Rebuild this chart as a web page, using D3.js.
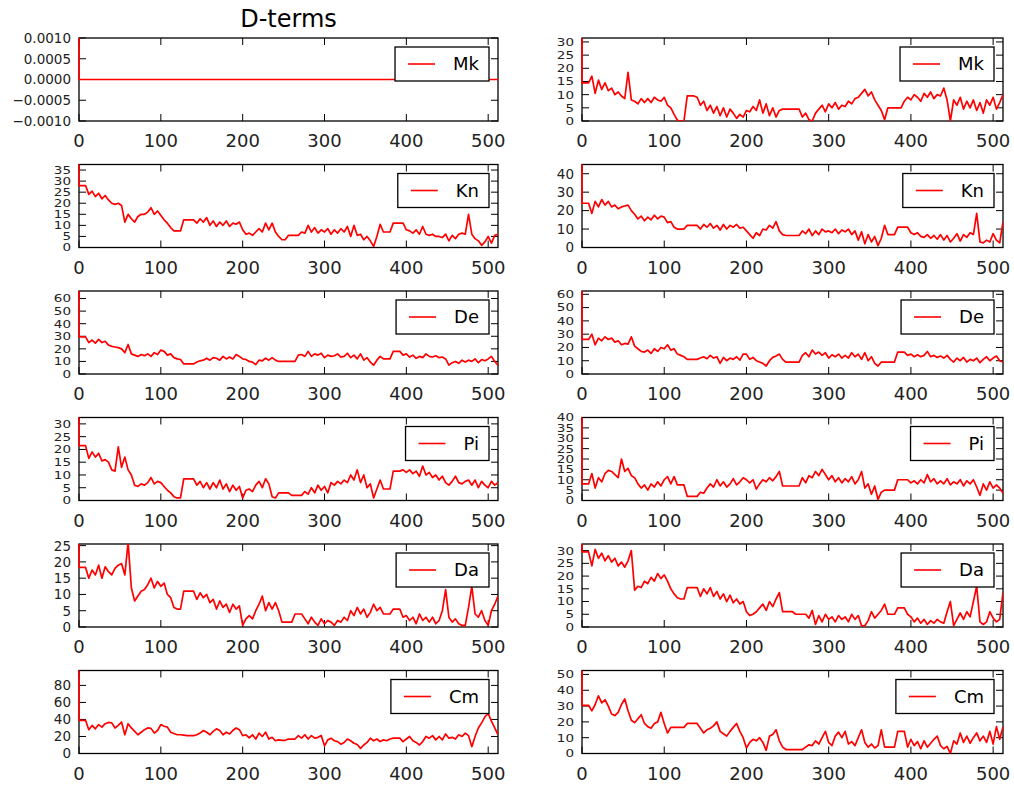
<!DOCTYPE html>
<html lang="en">
<head>
<meta charset="UTF-8">
<title>D-terms</title>
<style>
  body { margin: 0; background: #fff; }
  svg { font-family: "DejaVu Sans", sans-serif; }
</style>
</head>
<body>
<div id="chart"></div>
<script src="https://d3js.org/d3.v7.min.js"></script>
<script>
// ---- data ----
const labels = ["Mk", "Kn", "De", "Pi", "Da", "Cm"];
const xTicks = [0, 100, 200, 300, 400, 500];
const xMax = 512;
const xStep = 4;              // samples below are read every 4 units

// axis ranges, per row (left column, right column)
const yBotL = [-0.001, 0, 0, 0, 0, 0];
const yTopL = [0.001, 37.5, 66, 32.5, 25.5, 97.5];
const yTopR = [31.5, 45, 62.5, 40, 32.6, 52.5];
const yStepL = [0.0005, 5, 10, 5, 5, 20];
const yStepR = [5, 10, 10, 5, 5, 10];

// first sample (x = 0) sits at or beyond the top of each axis
const spikeL = [0.001, 40, 70, 35, 30, 100];
const spikeR = [35, 50, 70, 45, 35, 60];

const mkL = [0,0,0,0,0,0,0,0,0,0, 0,0,0,0,0,0,0,0,0,0, 0,0,0,0,0,0,0,0,0,0,
  0,0,0,0,0,0,0,0,0,0, 0,0,0,0,0,0,0,0,0,0, 0,0,0,0,0,0,0,0,0,0,
  0,0,0,0,0,0,0,0,0,0, 0,0,0,0,0,0,0,0,0,0, 0,0,0,0,0,0,0,0,0,0,
  0,0,0,0,0,0,0,0,0,0, 0,0,0,0,0,0,0,0,0,0, 0,0,0,0,0,0,0,0,0,0, 0,0,0,0,0,0,0,0,0];
const mkR = [14.5,14.5,14.5,17,10.5,15.5,12,14.5,11.5,12.5, 10,11,9.5,8.5,18.5,8,7.5,6.5,8.5,7,
  8.5,7,9,8,7.5,9,6,5,2.5,0.3, 0,0,9.5,9.5,9.5,9,6,7.5,4,6, 3,5.5,2,5,1.5,4.5,3,1,2.5,1.5,
  4,3.5,5.5,4,8,3,6.5,2,5,1.5, 4,4.5,4.5,4.5,4.5,4.5,4.5,1.5,3,0.5, 0,3,4.5,6,3.5,6.5,5,7,4.5,6,
  5.5,7.5,6.5,8.5,9,10.5,12,9.5,11,8, 6,4,0.5,5,5,5,5,5,7.5,9, 8,10,9,7.5,10.5,9,11,8.5,10,9.5,
  12.5,8,0,8,6,9,4.5,7.5,5,8, 4,7,3,8,6,9,4.5,7,10];
const knL = [28,28,28,24,25.5,23,24.5,22,23.5,21.5, 20,19.5,20,19,11.5,15,13,11.5,14,15,
  15,16,18,15,16.5,14.5,12.5,11,9,7.5, 7.5,7.5,12.5,12.5,12.5,12.5,11,13,11.5,13.5,
  10,12,9.5,11.5,10,12,9.5,11,10.5,11.5, 8,6,6.5,5.5,7,8.5,7,11,8,11, 7,5,3.5,3.5,5.5,5.5,5.5,5.5,7,6.5,
  10,7,9,6.5,8,7,8.5,6,8,6.5, 8.5,7,9.5,5,10,5.5,6,3.5,5,3, 0.5,5,10.5,7,7,7,11,11,11,11,
  8,7.5,6.5,8,6,9.5,6,5.5,6,5, 5,4.5,6,3,5.5,4,6,6.5,6,15, 6,4,3,1,2.5,5,2,5.5,6];
const knR = [24,24,24,18.5,25,22,26,23,25,22, 23,21,22,22.5,23,20,18,15.5,17,14.5,
  16.5,15,17.5,15.5,17,16.5,13.5,14,11,10, 10,10,12,12,12,12,10,12.5,11,13,
  10.5,12,9.5,12.5,10,12,11,12.5,10.5,11, 9,7,5,8,6.5,10,9.5,12,10.5,14, 9,7,6.5,6.5,6.5,6.5,6.5,9,7.5,10,
  6.5,9,7,10,8.5,9,8,10,7.5,9.5, 8.5,10,7,9,4,8.5,2,7,3,6, 1,5,12,7,7,7,11,11,11,11,
  8,7,8,6,5.5,7,5,6.5,4.5,7, 4,6.5,3,5,7.5,3.5,7,5.5,8,7, 18.5,3,2.5,4,3,7.5,4,2.5,14];
const deL = [29.5,29.5,29.5,25,27,24.5,27.5,25,26,23, 22,21.5,21,20,17,23.5,16,15,14,15.5,
  14.5,16,14,17,15.5,19,18,15,16,13, 12,11.5,8,8,8,8,9.5,10.5,11,12.5, 11,13,12.5,11,14,12,13.5,12,15.5,14,
  12,11.5,10,9.5,7.5,11,10.5,12.5,11,13, 11,10,10,10,10,10,10,15,15.5,14, 18,14,16,15,16.5,13,15,14,14.5,16,
  13.5,14,16.5,13,15,12,16,11,13,9.5, 7,11,14,12,12,12,18,18,18,15, 16,13.5,15,12.5,14,13,16,14,13.5,14.5,
  13,13.5,12,7,9,10,8.5,11,9.5,11, 10,12,9,11.5,10.5,12,14,10,7];
const deR = [26,26,26,30,22,27,25,28,26,27, 24,25,22,23,22.5,28,21,19,17,16.5,
  18,15.5,19,17,20,19,22,18,19,15, 14,13,11,11,11,11,12,13,11.5,14, 12,13,8,12.5,10,12,11,13,10.5,15,
  15,11,12.5,10,9,8,6,10,12.5,13.5, 15,11,9,9,9,9,9,14,16,13, 18,15,16.5,14,16,12,14.5,13,15,12,
  14,12,16,13,15,11,16,10,13,8, 6,9,9,9,9,9,16.5,16.5,16.5,14, 15,13,14.5,13,14,17,13,14,12.5,13.5,
  12,14,11,9,12,10,12.5,9,11,10, 12,8.5,11,13,10,12,13.5,10,9];
const piL = [21.5,21.5,21.5,16.5,19,17,18.5,15.5,16,15, 12,11.5,21,13,17,12,10,6,5.5,6.5,
  6,7,9,6.5,7.5,7,5.5,4,3,1.5, 1,1,8.5,8.5,8.5,8.5,6,7.5,5,7, 4.5,7,5,8,4.5,6.5,3.5,6,4,5.5,
  1,4,4.5,3.5,6,7.5,5,8.5,6.5,1.5, 1,3,3,3,3,2,2,2,2,3.5, 2.5,5,3,6,4,5.5,3,7,6,7.5,
  6.5,8,7,10,8,12,7,10,5,6.5, 1,4.5,8,4.5,4.5,4.5,11.5,11.5,11.5,12, 11,12,10.5,11.5,9.5,13.5,10,11,9,10,
  8,9.5,7,6,7.5,9.5,7,6.5,7.5,8, 6,8,5,7.5,6,5,7.5,6,7];
const piR = [8,8,8,13,6,11,9,13,14.5,14, 12.5,11,20,14,15.5,12,11,8,6,7.5,
  5,8,6.5,9,7,10,11.5,8,11.5,7.5, 7.5,7.5,2,2,2,2,4,3.5,6,8, 6.5,10,7,9,6.5,8,10.5,7.5,9,11,
  10,8.5,10,5.5,8,10,9,11,9.5,11.5, 14,7,7,7,7,7,7,11,8.5,12, 11,14,12,15,12.5,10,12,9,11,8.5,
  10.5,9,11.5,8,10,14,6,8,3,7, 0.5,4,5,5,5,5,10,10,10,10, 8.5,9.5,8,10,8.5,12.5,9,10.5,8,9.5,
  8,10.5,7.5,9,8,10,7,9.5,8,10, 6.5,2.5,8,5,9,6,7.5,6,3.5];
const daL = [18.3,18.3,18.3,15,17.5,16,19,15,18.5,17, 16,18,19,19.5,16,26,12,8,9.5,11,
  11.5,13,15,12,14,12.5,13.5,10,9,6, 5.5,5.5,11,11,11,11,8.5,10.5,9,10, 7.5,8.5,5.5,8,6,7,4.5,7,5.5,6.5,
  0.5,2.5,3.5,2.5,5,7,9.5,5,7.5,5.5, 7.5,5,1.5,1.5,1.5,1.5,4,4,4,2.5, 1,3,1.5,0.5,2.5,1,2,1.5,0.5,2,
  1.5,3,2,5,3.5,6,4,5.5,3,4.5, 7,5,6,4,4,4,5.5,5.5,5.5,3, 3.5,2,3,1,4,2,3,1.5,3,1,
  2,5,11.5,3,1.5,2.5,1,0.5,0.5,6, 12.5,4,3,5,2,0.5,5,7,9.5];
const daR = [29.5,29.5,29.5,24,30.5,27,29,26,28,25.5, 27,24,25.5,23.5,26,30,14.5,16,15.5,18,
  17,19.5,18,21,19,20.5,18,15,13,11.5, 11,11,15.5,15.5,15.5,15.5,12,15,13,15.5, 12,14,11,13,10,12.5,9.5,11,9,10,
  6,4.5,5,6,7.5,9,6.5,10,8,11, 13.5,6,6,6,6,5,5,5,5,3.5, 6.5,1,4.5,2,5,3,4,2,4.5,3,
  4,2,5,3,4.5,0.5,0.5,2.5,6,3.5, 5,6.5,9,5,5,5,7.5,7.5,7.5,5, 4,2,3.5,1.5,3,1,2.5,1.5,3,2,
  1.5,6,10,0.5,3,5.5,3,6,4,10, 16,2,1,2,6,3.5,2,3,13.5];
const cmL = [39,39,39,28,33,29,34,31,35,36.5, 36,30,33,37,22,35,30,26,22,25,
  28,30,29.5,24,27,34,32,31,25,23.5, 22,22,21.5,21,21,21,22,24,27,25, 22,26,29,27,22,25,23,27,30,28,
  21,22,18.5,22,17,24,20,25,17,19, 15,16,15.5,15.5,17,17,17,21,18,22, 17,21,18,19,21,9,16,18,15,14,
  11,13,17,15,12,10.5,6,10,13,18, 15,17,14,16,15,17,18,18,18,14, 17,20,15,13,10,14,20,18,21,16,
  20,16,23,18,19,17,22,20,24,21, 8,20,30,36,43,47,38,30,22];
const cmR = [30.5,30.5,30.5,27,31,36.5,32,34,30,25, 24,26,31,34.5,27,21,19.5,22,24.5,19,
  17,16,19,20,26,19,13,16.5,16.5,16.5, 16.5,16.5,19,19,19,19,16,13,15,16, 17.5,20,14,12.5,11,14,16.5,19,14,10,
  3.5,7,9,8,10,7,2,11,12,15, 8,4,2.5,2.5,2.5,2.5,2.5,2.5,4,5.5, 5,8,6,10,14,7,5,11,13.5,10,
  14,6,7.5,5,10,15,7,4,6,3.5, 5,15,4,4,4,4,14,14,14,4, 9,5,7.5,3,8,4,6.5,9,11,5,
  3,4.5,0,8,6,13,7,11,6.5,10, 13,8,11,7,14,6,17,9,17];

const seriesL = [mkL, knL, deL, piL, daL, cmL];
const seriesR = [mkR, knR, deR, piR, daR, cmR];

// ---- layout ----
const W = 1014, H = 786;
const cols = [{ x0: 79, x1: 498 }, { x0: 582, x1: 1003 }];
const rowTop = 38, rowStep = 126.5, rowH = 83;
const tickLen = 7;

const svg = d3.select("#chart").append("svg")
  .attr("width", W)
  .attr("height", H);

svg.append("text")
  .attr("x", (cols[0].x0 + cols[0].x1) / 2)
  .attr("y", 27)
  .attr("text-anchor", "middle")
  .style("font-size", "24px")
  .text("D-terms");

function panel(ci, ri, values, spike, yBot, yTop, yStep, label) {
  const c = cols[ci];
  const top = rowTop + ri * rowStep, bot = top + rowH;
  const x = d3.scaleLinear().domain([0, xMax]).range([c.x0, c.x1]);
  const y = d3.scaleLinear().domain([yBot, yTop]).range([bot, top]);
  const g = svg.append("g");
  const id = "clip" + ci + ri;

  // clip a hair wider on the left so the x = 0 spike shows over the spine
  g.append("clipPath").attr("id", id)
    .append("rect")
    .attr("x", c.x0 - 1).attr("y", top)
    .attr("width", c.x1 - c.x0 + 1).attr("height", rowH);

  // ticks on all four sides, pointing in
  const yTicks = d3.range(yBot, yTop + yStep * 0.01, yStep);
  const tk = g.append("g").attr("stroke", "#000").attr("stroke-width", 1);
  xTicks.forEach(t => {
    const px = x(t);
    tk.append("line").attr("x1", px).attr("x2", px).attr("y1", bot).attr("y2", bot - tickLen);
    tk.append("line").attr("x1", px).attr("x2", px).attr("y1", top).attr("y2", top + tickLen);
  });
  yTicks.forEach(t => {
    const py = y(t);
    tk.append("line").attr("x1", c.x0).attr("x2", c.x0 + tickLen).attr("y1", py).attr("y2", py);
    tk.append("line").attr("x1", c.x1).attr("x2", c.x1 - tickLen).attr("y1", py).attr("y2", py);
  });

  g.append("rect")
    .attr("x", c.x0).attr("y", top)
    .attr("width", c.x1 - c.x0).attr("height", rowH)
    .attr("fill", "none")
    .attr("stroke", "#000")
    .attr("stroke-width", 1.3);

  const pts = [[0, spike]].concat(values.map((v, i) => [i * xStep, v]));
  const line = d3.line().x(d => x(d[0])).y(d => y(d[1]));
  g.append("path")
    .attr("clip-path", `url(#${id})`)
    .attr("d", line(pts))
    .attr("fill", "none")
    .attr("stroke", "#ff0000")
    .attr("stroke-width", 1.7)
    .attr("stroke-linejoin", "round");

  g.append("g").selectAll("text")
    .data(xTicks)
    .join("text")
    .attr("x", d => x(d))
    .attr("y", bot + 26)
    .attr("text-anchor", "middle")
    .style("font-size", "18px")
    .attr("fill", "#222")
    .text(d => d);

  // crowded y labels are drawn a bit squashed, as in the source
  const gap = Math.abs(y(yStep) - y(0));
  const sy = gap < 16 ? 0.8 : 1;
  const fmt = yStep < 1 ? d3.format(".4f") : d3.format("d");
  g.append("g").selectAll("text")
    .data(yTicks)
    .join("text")
    .attr("transform", d => `translate(${c.x0 - 8},${y(d)}) scale(1,${sy})`)
    .attr("dy", "0.36em")
    .attr("text-anchor", "end")
    .style("font-size", "13.5px")
    .attr("fill", "#222")
    .text(d => fmt(d));

  // legend box
  const lg = g.append("g");
  const box = lg.append("rect");
  const txt = lg.append("text")
    .style("font-size", "18px")
    .text(label);
  const tw = txt.node().getComputedTextLength();
  const bw = 13 + 27 + 18 + tw + 10, bh = 34;
  const bx = c.x1 - 9 - bw, by = top + 9;
  box.attr("x", bx).attr("y", by).attr("width", bw).attr("height", bh)
    .attr("fill", "#fff").attr("stroke", "#000").attr("stroke-width", 1.3);
  lg.append("line")
    .attr("x1", bx + 13).attr("x2", bx + 40)
    .attr("y1", by + bh / 2).attr("y2", by + bh / 2)
    .attr("stroke", "#ff0000").attr("stroke-width", 1.6);
  txt.attr("x", bx + 58).attr("y", by + bh / 2).attr("dy", "0.36em");
}

labels.forEach((lab, r) => {
  panel(0, r, seriesL[r], spikeL[r], yBotL[r], yTopL[r], yStepL[r], lab);
  panel(1, r, seriesR[r], spikeR[r], 0, yTopR[r], yStepR[r], lab);
});
</script>
</body>
</html>
